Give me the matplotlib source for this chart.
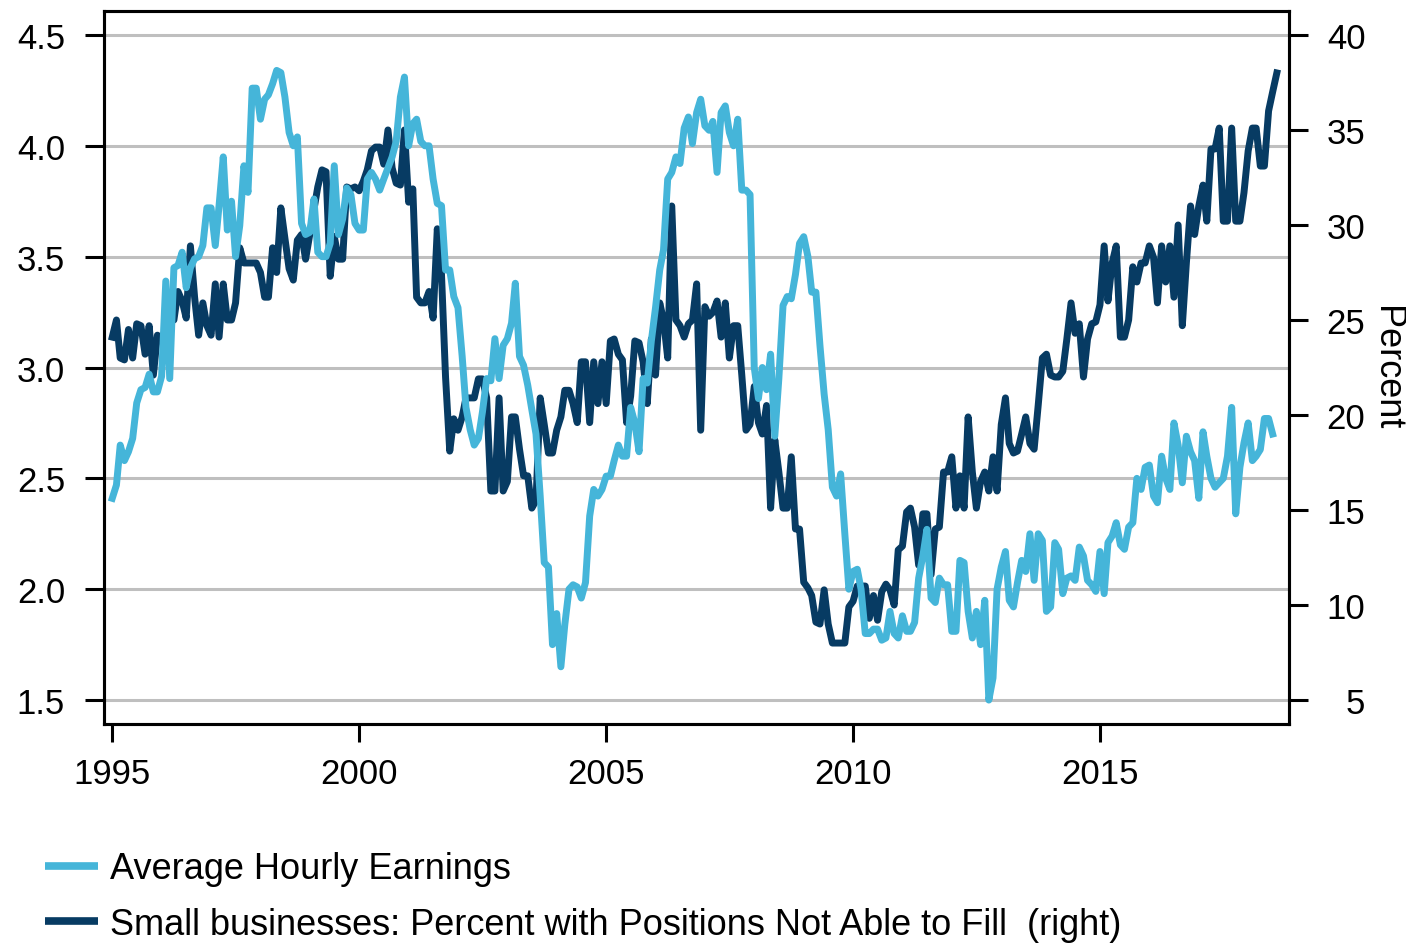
import numpy as np
import pandas as pd
import matplotlib
matplotlib.use("Agg")
import matplotlib.pyplot as plt
import matplotlib.dates as mdates

plt.rcParams['font.family'] = ['Liberation Sans', 'DejaVu Sans']

# ---- data, monthly from Jan 1995 ----
# Average Hourly Earnings, % y/y (left axis)
ahe = [
    2.41, 2.47, 2.65, 2.58, 2.62, 2.68, 2.84, 2.90, 2.91, 2.97, 2.89, 2.89,
    2.96, 3.39, 2.95, 3.45, 3.46, 3.52, 3.36, 3.45, 3.49, 3.50, 3.55, 3.72,
    3.72, 3.55, 3.73, 3.95, 3.62, 3.75, 3.50, 3.64, 3.91, 3.79, 4.26, 4.26,
    4.12, 4.21, 4.23, 4.28, 4.34, 4.33, 4.22, 4.06, 4.00, 4.04, 3.65, 3.60,
    3.61, 3.76, 3.52, 3.50, 3.50, 3.56, 3.91, 3.60, 3.67, 3.81, 3.78, 3.65,
    3.62, 3.62, 3.85, 3.88, 3.85, 3.80, 3.85, 3.90, 3.95, 4.02, 4.22, 4.31,
    4.00, 4.10, 4.12, 4.02, 4.00, 4.00, 3.85, 3.74, 3.73, 3.44, 3.44, 3.32,
    3.27, 3.05, 2.82, 2.72, 2.65, 2.68, 2.80, 2.95, 2.94, 3.13, 2.95, 3.10,
    3.13, 3.20, 3.38, 3.05, 3.01, 2.92, 2.81, 2.70, 2.42, 2.12, 2.10, 1.75,
    1.89, 1.65, 1.84, 2.00, 2.02, 2.01, 1.96, 2.03, 2.33, 2.45, 2.42, 2.45,
    2.51, 2.51, 2.58, 2.65, 2.60, 2.60, 2.82, 2.75, 2.62, 2.95, 2.93, 3.12,
    3.27, 3.44, 3.53, 3.85, 3.88, 3.95, 3.92, 4.08, 4.13, 4.01, 4.15, 4.21,
    4.09, 4.07, 4.11, 3.88, 4.15, 4.18, 4.06, 4.00, 4.12, 3.80, 3.80, 3.78,
    3.00, 2.86, 3.00, 2.90, 3.06, 2.69, 2.95, 3.28, 3.32, 3.31, 3.42, 3.56,
    3.59, 3.50, 3.34, 3.34, 3.10, 2.88, 2.72, 2.46, 2.42, 2.52, 2.25, 2.00,
    2.08, 2.09, 2.00, 1.80, 1.80, 1.82, 1.82, 1.77, 1.78, 1.90, 1.80, 1.78,
    1.88, 1.81, 1.81, 1.85, 2.05, 2.15, 2.27, 1.96, 1.94, 2.05, 2.02, 2.02,
    1.81, 1.81, 2.13, 2.12, 1.90, 1.78, 1.90, 1.75, 1.95, 1.50, 1.60, 2.00,
    2.10, 2.17, 1.95, 1.92, 2.03, 2.13, 2.08, 2.25, 2.04, 2.25, 2.22, 1.90,
    1.92, 2.21, 2.18, 1.98, 2.05, 2.06, 2.04, 2.19, 2.15, 2.04, 2.02, 1.99,
    2.17, 1.98, 2.21, 2.24, 2.30, 2.20, 2.18, 2.28, 2.30, 2.50, 2.45, 2.55,
    2.56, 2.42, 2.39, 2.60, 2.50, 2.45, 2.75, 2.65, 2.48, 2.69, 2.62, 2.58,
    2.41, 2.71, 2.60, 2.50, 2.46, 2.48, 2.50, 2.60, 2.82, 2.34, 2.55, 2.66,
    2.75, 2.58, 2.60, 2.63, 2.77, 2.77, 2.70,
]

# Small businesses: percent with positions not able to fill (right axis)
nfib = [
    24.1, 25.0, 23.0, 22.9, 24.5, 23.0, 24.8, 24.7, 23.2, 24.7, 22.1, 24.2,
    24.0, 24.5, 25.0, 25.0, 26.5, 26.0, 25.1, 28.9, 26.2, 24.2, 25.9, 24.7,
    24.2, 26.9, 24.1, 26.9, 25.0, 25.0, 25.9, 28.8, 28.0, 28.0, 28.0, 28.0,
    27.5, 26.2, 26.2, 28.8, 27.5, 30.9, 29.3, 27.7, 27.1, 29.2, 29.5, 28.2,
    29.5, 30.8, 32.0, 32.9, 32.8, 27.3, 29.4, 28.2, 28.2, 32.0, 31.9, 32.0,
    31.8, 32.3, 32.9, 33.9, 34.1, 34.1, 33.2, 35.0, 33.0, 32.2, 32.1, 35.0,
    31.2, 31.9, 26.2, 25.9, 25.9, 26.5, 25.1, 29.8, 27.4, 22.0, 18.1, 19.8,
    19.2, 19.9, 20.9, 20.9, 20.9, 21.9, 21.9, 20.9, 16.0, 16.0, 20.9, 16.0,
    16.5, 19.9, 19.9, 18.2, 16.8, 16.8, 15.1, 15.5, 20.9, 19.5, 18.0, 18.0,
    19.2, 19.9, 21.3, 21.3, 20.6, 19.6, 22.8, 22.8, 19.6, 22.8, 20.6, 22.8,
    20.6, 23.9, 24.0, 23.2, 22.9, 19.6, 21.0, 23.9, 23.8, 22.8, 20.6, 24.0,
    22.1, 25.9, 25.0, 23.0, 31.0, 25.0, 24.7, 24.1, 24.8, 25.0, 26.9, 19.2,
    25.7, 25.2, 25.4, 26.0, 24.1, 25.9, 23.0, 24.7, 24.7, 22.1, 19.2, 19.5,
    21.5, 19.6, 19.0, 20.5, 15.1, 18.7, 17.0, 15.1, 15.1, 17.8, 14.0, 14.0,
    11.2, 10.9, 10.5, 9.1, 9.0, 10.8, 9.0, 8.0, 8.0, 8.0, 8.0, 9.9,
    10.2, 11.0, 11.0, 11.0, 9.3, 10.5, 9.2, 10.7, 11.1, 10.8, 10.0, 12.9,
    13.1, 14.9, 15.1, 14.1, 12.1, 14.8, 14.8, 11.6, 14.0, 14.1, 17.0, 17.0,
    17.8, 15.1, 16.8, 15.1, 19.9, 17.0, 15.1, 16.5, 17.0, 16.0, 17.8, 16.0,
    19.5, 20.9, 18.5, 18.0, 18.1, 19.0, 19.9, 18.5, 18.2, 20.5, 23.0, 23.2,
    22.1, 22.0, 22.0, 22.3, 24.0, 25.9, 24.3, 24.8, 22.0, 24.0, 24.8, 24.9,
    25.8, 28.9, 26.0, 28.0, 28.9, 24.1, 24.1, 25.0, 27.8, 27.0, 28.0, 28.0,
    28.9, 28.3, 25.9, 28.9, 27.0, 28.9, 26.2, 30.0, 24.7, 28.0, 31.0, 29.5,
    31.0, 32.1, 30.2, 34.0, 34.0, 35.1, 30.2, 30.2, 35.1, 30.2, 30.2, 31.7,
    33.9, 35.1, 35.1, 33.1, 33.1, 36.0, 37.0, 38.0,
]

ahe_dates = pd.date_range('1995-01-01', periods=len(ahe), freq='MS')
nfib_dates = pd.date_range('1995-01-01', periods=len(nfib), freq='MS')

left_ticks = [1.5, 2.0, 2.5, 3.0, 3.5, 4.0, 4.5]
right_ticks = [5, 10, 15, 20, 25, 30, 35, 40]

light = '#45B5D9'
dark = '#073B63'
FS = 25

# ---- figure ----
fig = plt.figure(figsize=(14.06, 9.45), dpi=100)
rect = [104/1406, 1 - 725/945, (1289-104)/1406, (725-12)/945]

ax = fig.add_axes(rect)            # left axis + grid
ax2 = ax.twinx()                   # right axis, small businesses
ax3 = fig.add_axes(rect, sharex=ax, sharey=ax)  # earnings drawn on top
ax3.patch.set_visible(False)
ax3.axis('off')

ax.set_zorder(0)
ax2.set_zorder(1)
ax3.set_zorder(2)

ax2.plot(nfib_dates, nfib, color=dark, lw=5.0)
ax3.plot(ahe_dates, ahe, color=light, lw=5.0)

ax.set_ylim(1.392, 4.608)
ax2.set_ylim(3.74, 41.26)
ax.set_xlim(pd.Timestamp('1994-11-01'), pd.Timestamp('2018-10-30'))

ax.set_yticks(left_ticks)
ax.set_yticklabels(['%.1f' % v for v in left_ticks])
ax2.set_yticks(right_ticks)
ax.grid(axis='y', color='#BFBFBF', lw=2.2)
ax.set_axisbelow(True)

ax.xaxis.set_major_locator(mdates.YearLocator(5))
ax.xaxis.set_major_formatter(mdates.DateFormatter('%Y'))

for a in (ax, ax2):
    for s in a.spines.values():
        s.set_linewidth(2.2)
        s.set_color('black')

ax.tick_params(axis='y', direction='out', length=14, width=2.2, labelsize=FS, pad=14)
ax.tick_params(axis='x', direction='out', length=13, width=2.2, labelsize=FS, pad=11)
ax2.tick_params(axis='y', direction='out', length=14, width=2.2, labelsize=FS, pad=41)
for lbl in ax2.get_yticklabels():
    lbl.set_horizontalalignment('right')

ax2.set_ylabel('Percent', fontsize=26, rotation=270, va='center', ha='center')
ax2.yaxis.set_label_coords((1386 - 104) / 1185, 0.5)

# legend below the plot
h1, = ax.plot([], [], color=light, lw=5.5, solid_capstyle='butt')
h2, = ax.plot([], [], color=dark, lw=5.5, solid_capstyle='butt')
fig.legend([h1, h2],
           ['Average Hourly Earnings',
            'Small businesses: Percent with Positions Not Able to Fill  (right)'],
           loc='upper left', bbox_to_anchor=(45/1406, 0.098),
           frameon=False, fontsize=26, borderpad=0, borderaxespad=0,
           handlelength=1.47, handletextpad=0.33, labelspacing=0.56)

fig.savefig('out.png', dpi=100)
